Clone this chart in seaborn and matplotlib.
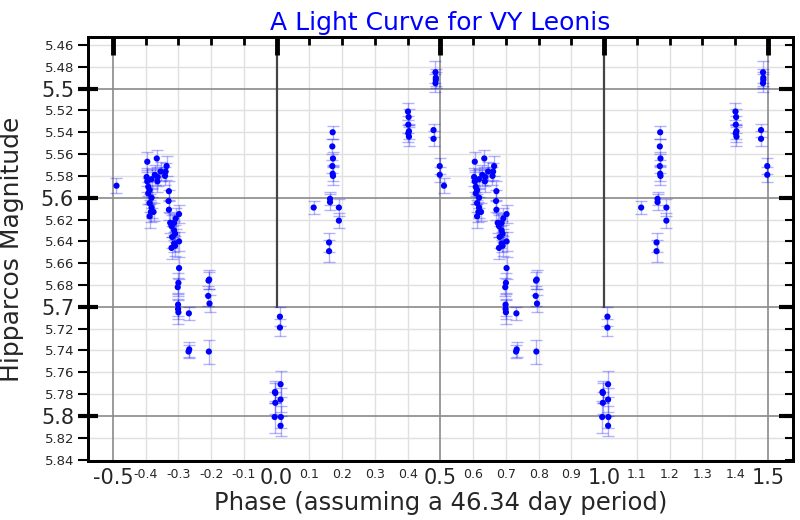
import numpy as np
import pandas as pd
import matplotlib
matplotlib.use("Agg")
import matplotlib.pyplot as plt
import seaborn as sns

# Hipparcos photometry of VY Leonis, folded on a 46.34 day period
# phase in [0, 1), magnitude, 1-sigma error
phase = [0.010, 0.010, 0.012, 0.012, 0.013, 0.012, 0.995, 0.996, 0.996, 0.994,
         0.113, 0.163, 0.163, 0.160, 0.160, 0.190, 0.190,
         0.171, 0.170, 0.172, 0.170, 0.171, 0.172,
         0.401, 0.403, 0.402, 0.404, 0.402, 0.404,
         0.485, 0.486, 0.486, 0.485, 0.479, 0.479, 0.498, 0.498, 0.511,
         0.605, 0.603, 0.605, 0.618, 0.608, 0.612, 0.608, 0.618, 0.612, 0.618,
         0.616, 0.612, 0.624,
         0.634, 0.628, 0.637, 0.636, 0.646, 0.661, 0.664, 0.659,
         0.671, 0.670, 0.671, 0.702, 0.692, 0.675, 0.687, 0.679, 0.687,
         0.690, 0.681, 0.702, 0.687, 0.679, 0.690,
         0.702, 0.700, 0.698, 0.699, 0.699, 0.700,
         0.732, 0.733, 0.731,
         0.794, 0.792, 0.791, 0.795, 0.793]
mag = [5.709, 5.719, 5.771, 5.785, 5.801, 5.809, 5.778, 5.779, 5.788, 5.801,
       5.609, 5.601, 5.604, 5.641, 5.649, 5.609, 5.621,
       5.540, 5.553, 5.564, 5.571, 5.578, 5.580,
       5.521, 5.526, 5.533, 5.539, 5.541, 5.544,
       5.485, 5.490, 5.492, 5.495, 5.538, 5.546, 5.571, 5.579, 5.589,
       5.567, 5.581, 5.585, 5.583, 5.590, 5.593, 5.596, 5.600, 5.605, 5.609,
       5.613, 5.617, 5.613,
       5.564, 5.579, 5.581, 5.585, 5.576, 5.576, 5.571, 5.580,
       5.594, 5.603, 5.611, 5.615, 5.619, 5.623, 5.623, 5.626, 5.630,
       5.633, 5.636, 5.640, 5.642, 5.646, 5.644,
       5.6645, 5.678, 5.682, 5.698, 5.702, 5.705,
       5.706, 5.739, 5.741,
       5.675, 5.676, 5.690, 5.697, 5.741]
err = [0.009, 0.008, 0.012, 0.011, 0.010, 0.009, 0.010, 0.009, 0.010, 0.015,
       0.006, 0.006, 0.007, 0.009, 0.010, 0.008, 0.007,
       0.006, 0.007, 0.006, 0.006, 0.007, 0.008,
       0.008, 0.007, 0.008, 0.007, 0.008, 0.009,
       0.010, 0.008, 0.007, 0.008, 0.006, 0.007, 0.007, 0.007, 0.007,
       0.009, 0.008, 0.010, 0.009, 0.008, 0.009, 0.010, 0.009, 0.008, 0.010,
       0.009, 0.011, 0.008,
       0.008, 0.009, 0.008, 0.010, 0.009, 0.008, 0.009, 0.008,
       0.009, 0.010, 0.009, 0.008, 0.010, 0.009, 0.008, 0.010, 0.009,
       0.008, 0.010, 0.009, 0.008, 0.010, 0.009,
       0.010, 0.009, 0.008, 0.010, 0.009, 0.011,
       0.006, 0.007, 0.006,
       0.009, 0.008, 0.009, 0.008, 0.011]

# show each point at phase-1, phase, phase+1 inside the plotted window
base = pd.DataFrame({"phase": phase, "mag": mag, "err": err})
df = pd.concat([base.assign(phase=base.phase + k) for k in (-1, 0, 1)])
df = df[(df.phase >= -0.5) & (df.phase <= 1.5)]

sns.set_theme(style="white")
plt.rcParams["font.family"] = ["DejaVu Sans"]
plt.rcParams["axes.unicode_minus"] = False

YLIM = (5.8413, 5.4527)

fig = plt.figure(figsize=(8, 5.2), dpi=100)
ax = fig.add_axes([0.11, 0.1135, 0.881, 0.8153])

ax.errorbar(df.phase, df.mag, yerr=df.err, fmt="none", ecolor="#0000ff",
            alpha=0.3, elinewidth=1, capsize=4.5, capthick=1, zorder=3)
sns.scatterplot(data=df, x="phase", y="mag", color="#0000ff", s=20,
                edgecolor="none", ax=ax, zorder=4)

ax.set_xlim(-0.576, 1.576)
ax.set_ylim(*YLIM)

xmaj = [-0.5, 0.0, 0.5, 1.0, 1.5]
xmin = [round(v, 1) for v in np.arange(-0.4, 1.5, 0.1) if round(v, 1) not in xmaj]
ymaj = [5.5, 5.6, 5.7, 5.8]
ymin = [round(v, 2) for v in np.arange(5.46, 5.845, 0.02) if round(v, 2) not in ymaj]

ax.set_xticks(xmaj)
ax.set_xticklabels([f"{v:.1f}" for v in xmaj])
ax.set_xticks(xmin, minor=True)
ax.set_xticklabels([f"{v:.1f}" for v in xmin], minor=True)
ax.set_yticks(ymaj)
ax.set_yticklabels([f"{v:.1f}" for v in ymaj])
ax.set_yticks(ymin, minor=True)
ax.set_yticklabels([f"{v:.2f}" for v in ymin], minor=True)

# grid drawn as plain lines under the ticks: light minor, darker major
ax.set_axisbelow("line")
ax.grid(False)
for x in xmin:
    ax.axvline(x, color="#e0e0e0", lw=1, zorder=0.5)
for y in ymin:
    ax.axhline(y, color="#e0e0e0", lw=1, zorder=0.5)
for y in ymaj:
    ax.axhline(y, color="#8a8a8a", lw=1.2, zorder=0.8)
for x in (-0.5, 0.5, 1.5):
    ax.axvline(x, color="#8a8a8a", lw=1.2, zorder=0.8)
for x in (0.0, 1.0):
    ax.axvline(x, ymin=(YLIM[0] - 5.70) / (YLIM[0] - YLIM[1]), ymax=1,
               color="#444444", lw=1.6, zorder=0.9)

ax.tick_params(axis="x", which="major", direction="in", top=True, length=13,
               width=3.5, labelsize=15, color="black", pad=5)
ax.tick_params(axis="x", which="minor", direction="in", top=True, length=6,
               width=2, labelsize=9, color="black", pad=5)
ax.tick_params(axis="y", which="major", direction="inout", length=14, width=3,
               labelsize=15, color="black", pad=3)
ax.tick_params(axis="y", which="minor", direction="out", length=7, width=1.5,
               labelsize=9.5, color="black", pad=3)

# right side ticks point inward
tw = ax.twinx()
tw.set_ylim(*YLIM)
tw.set_yticks(ymaj)
tw.set_yticks(ymin, minor=True)
tw.tick_params(which="major", direction="in", length=10, width=3,
               color="black", labelright=False)
tw.tick_params(which="minor", direction="in", length=6, width=1.5,
               color="black", labelright=False)
tw.grid(False)
for s in list(ax.spines.values()) + list(tw.spines.values()):
    s.set_color("black")
    s.set_linewidth(2)

ax.set_xlabel("Phase (assuming a 46.34 day period)", fontsize=17.5, labelpad=2)
ax.set_ylabel("Hipparcos Magnitude", fontsize=18, labelpad=12)
ax.set_title("A Light Curve for VY Leonis", fontsize=18, color="#0000ff", pad=5)

fig.savefig("out.png", dpi=100)
